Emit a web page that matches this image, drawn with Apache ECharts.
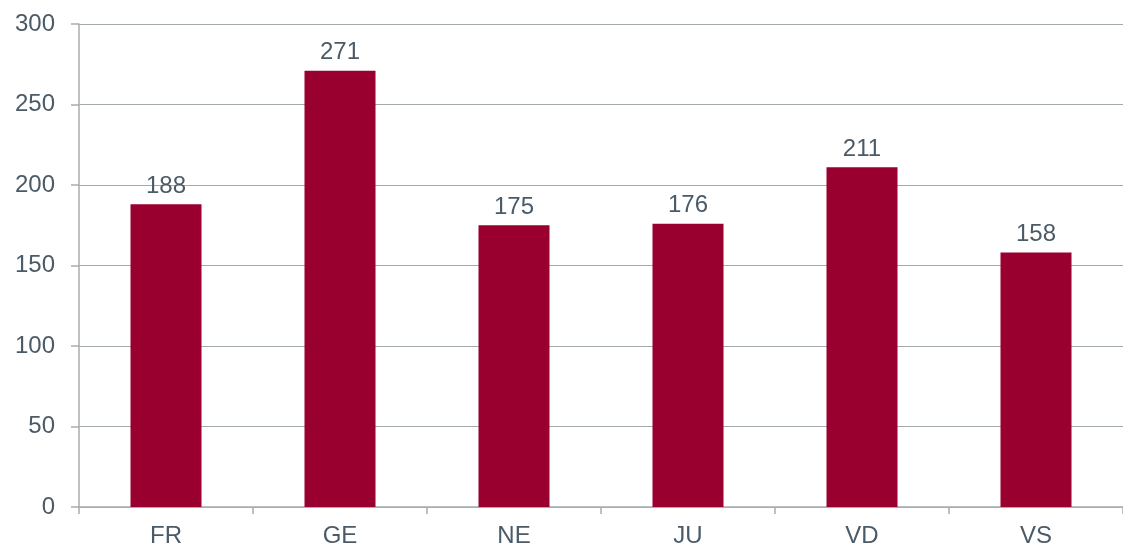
<!DOCTYPE html>
<html><head><meta charset="utf-8">
<script src="https://cdn.jsdelivr.net/npm/echarts@6/dist/echarts.min.js"></script>
<style>html,body{margin:0;padding:0;background:#fff}#c{width:1123px;height:544px}</style>
</head><body><div id="c"></div>
<script>
const categories = ["FR","GE","NE","JU","VD","VS"];
const values = [188,271,175,176,211,158];
const yTicks = [0,50,100,150,200,250,300];

const txt = '#4a5a67';
const font = 'Liberation Sans, Arial';
const chart = echarts.init(document.getElementById('c'));
chart.setOption({
  animation:false,
  grid:{left:79,right:0,top:24,bottom:37,containLabel:false,outerBoundsMode:'none'},
  xAxis:{type:'category',data:categories,
    axisLine:{lineStyle:{color:'#a9adb0',width:1.5}},
    axisTick:{show:true,length:7,lineStyle:{color:'#a9adb0',width:1.5}},
    axisLabel:{color:txt,fontSize:24,fontFamily:font,margin:17}},
  yAxis:{type:'value',min:yTicks[0],max:yTicks[yTicks.length-1],interval:50,
    axisLine:{show:true,lineStyle:{color:'#a9adb0',width:1.5}},
    axisTick:{show:true,length:8,lineStyle:{color:'#a9adb0',width:1.5}},
    splitLine:{lineStyle:{color:'#a3aaae',width:1}},
    axisLabel:{color:txt,fontSize:24,fontFamily:font,margin:24}},
  series:[{type:'bar',data:values,barWidth:71,
    itemStyle:{color:'#990030'},
    label:{show:true,position:'top',distance:6,color:txt,fontSize:24,fontFamily:font}}]
});
</script></body></html>
